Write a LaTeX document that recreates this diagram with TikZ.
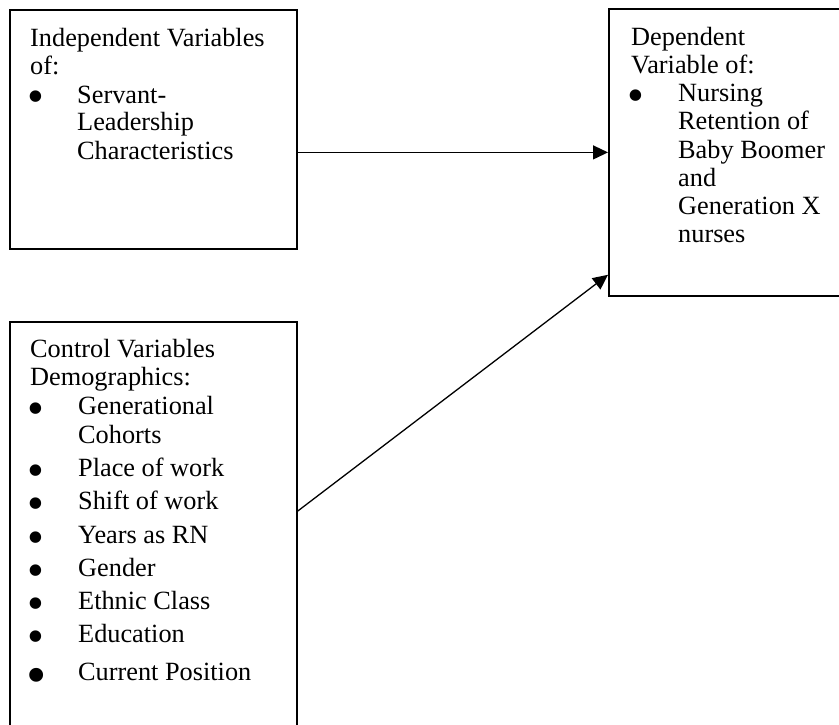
\documentclass[tikz,border=0pt]{standalone}
\usepackage{fontspec}
\setmainfont{Liberation Serif}
\usetikzlibrary{arrows.meta,calc}

\tikzset{
  box/.style={draw, line width=1.8pt, rectangle, anchor=north west, inner sep=0pt},
  txt/.style={anchor=base west, inner sep=0pt, font=\fontsize{26.3pt}{30pt}\selectfont},
  % bullet glyph whose node is flat: the node centre is the glyph baseline
  bul/.style={anchor=center, inner sep=0pt, text height=0pt, text depth=0pt,
    font=\fontsize{48pt}{48pt}\selectfont},
  bigbul/.style={bul, font=\fontsize{58pt}{58pt}\selectfont},
  arr/.style={line width=1.3pt, -{Triangle[length=15pt,width=14pt]}}
}

\begin{document}
\begin{tikzpicture}[x=1pt,y=-1pt]
  \clip (0,0) rectangle (839,725);

  % boxes
  \node[box, minimum width=287pt, minimum height=239pt] (b1) at (9,9) {};
  \node[box, minimum width=250pt, minimum height=287pt] (b2) at (608,8) {};
  \node[box, minimum width=287pt, minimum height=430pt] (b3) at (9,321) {};

  % independent variables
  \node[txt] (i1) at (30,47)  {Independent Variables};
  \node[txt] (i2) at (30,75)  {of:};
  \node[bul] (ib) at (35.5,113) {•};
  \node[txt] (i3) at (77,103) {Servant-};
  \node[txt] (i4) at (77,131) {Leadership};
  \node[txt] (i5) at (77,159) {Characteristics};

  % dependent variable
  \node[txt] (d1) at (631,46)  {Dependent};
  \node[txt] (d2) at (631,74)  {Variable of:};
  \node[bul] (db) at (636,112) {•};
  \node[txt] (d3) at (678,102) {Nursing};
  \node[txt] (d4) at (678,130) {Retention of};
  \node[txt] (d5) at (678,158) {Baby Boomer};
  \node[txt] (d6) at (678,186) {and};
  \node[txt] (d7) at (678,214) {Generation X};
  \node[txt] (d8) at (678,242) {nurses};

  % control variables
  \node[txt] (c1) at (30,357) {Control Variables};
  \node[txt] (c2) at (30,385) {Demographics:};
  \foreach \y/\t [count=\k] in {414/Generational, 476/Place of work, 509/Shift of work,
      543/Years as RN, 576/Gender, 609/Ethnic Class, 642/Education} {
    \node[bul] (cb\k) at (35.7,\y+10) {•};
    \node[txt] (ct\k) at (78,\y) {\t};
  }
  \node[txt] (ct0) at (78,443) {Cohorts};
  \node[bigbul] (cb8) at (36.7,694) {•};
  \node[txt] (ct8) at (78,680) {Current Position};

  % connectors
  \coordinate (s2) at ($(b3.north east)+(0,190)$);
  \coordinate (e2) at ($(b2.south west)+(0,-22)$);
  \draw[arr] (b1.east |- b2.west) -- (b2.west);
  \draw[arr] (s2) -- (e2);
\end{tikzpicture}
\end{document}
